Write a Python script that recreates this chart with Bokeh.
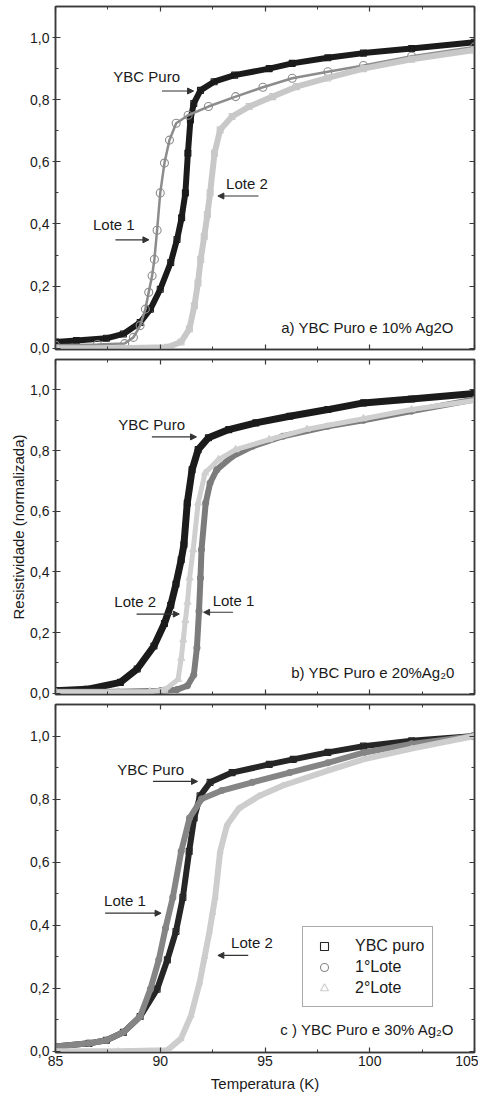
from bokeh.plotting import figure
from bokeh.layouts import column
from bokeh.models import (Range1d, LinearAxis, FixedTicker, CustomJSTickFormatter,
                          Label, Arrow, NormalHead, Legend, LegendItem)
from bokeh.embed import file_html
from bokeh.resources import INLINE

FONT = "Liberation Sans"

# ---------------- data (T in K, normalized resistivity) ----------------
# Panel a) YBC Puro e 10% Ag2O
a_ybc_T = [85, 86, 87.43, 88.24, 89.04, 89.53, 90.0, 90.5, 90.8, 91.02, 91.2, 91.32, 91.44, 91.6, 91.92, 92.57, 93.55, 95.2, 96.3, 98.0, 99.7, 102.0, 105]
a_ybc_v = [0.02, 0.025, 0.032, 0.046, 0.083, 0.126, 0.19, 0.276, 0.35, 0.42, 0.50, 0.628, 0.735, 0.788, 0.83, 0.858, 0.879, 0.90, 0.917, 0.935, 0.95, 0.965, 0.985]
a_l1_T = [85, 87, 88.3, 88.72, 89.04, 89.29, 89.45, 89.61, 89.72, 89.85, 90.0, 90.2, 90.44, 90.76, 91.33, 92.3, 93.6, 94.9, 96.3, 98.0, 99.7, 102.0, 105]
a_l1_v = [0.01, 0.012, 0.015, 0.035, 0.073, 0.126, 0.18, 0.233, 0.286, 0.38, 0.50, 0.596, 0.67, 0.724, 0.75, 0.778, 0.81, 0.84, 0.869, 0.89, 0.91, 0.94, 0.97]
a_l2_T = [85, 88, 90.34, 90.99, 91.39, 91.63, 91.8, 91.93, 92.1, 92.25, 92.38, 92.59, 92.86, 93.43, 94.24, 95.37, 96.5, 98.0, 99.7, 102.0, 105]
a_l2_v = [0.0, 0.0, 0.003, 0.02, 0.062, 0.137, 0.21, 0.286, 0.36, 0.43, 0.50, 0.628, 0.703, 0.746, 0.778, 0.81, 0.842, 0.87, 0.90, 0.93, 0.96]

# Panel b) YBC Puro e 20% Ag2O
b_ybc_T = [85, 86.5, 88.1, 88.9, 89.7, 90.2, 90.5, 90.75, 91.0, 91.13, 91.29, 91.52, 91.81, 92.3, 93.27, 94.56, 96.18, 98.0, 99.7, 102.0, 105]
b_ybc_v = [0.008, 0.013, 0.036, 0.08, 0.156, 0.23, 0.29, 0.36, 0.44, 0.49, 0.627, 0.737, 0.803, 0.842, 0.869, 0.891, 0.913, 0.935, 0.957, 0.97, 0.988]
b_l1_T = [85, 88, 90, 90.8, 91.3, 91.6, 91.75, 91.85, 91.92, 91.97, 92.17, 92.38, 92.7, 93.43, 94.4, 95.86, 98.0, 99.7, 102.0, 105]
b_l1_v = [0.005, 0.005, 0.008, 0.012, 0.025, 0.06, 0.15, 0.27, 0.38, 0.473, 0.627, 0.693, 0.737, 0.78, 0.814, 0.847, 0.88, 0.90, 0.93, 0.968]
b_l2_T = [85, 88, 89.5, 90.2, 90.85, 91.0, 91.1, 91.2, 91.3, 91.4, 91.57, 91.81, 92.14, 92.78, 93.6, 95.2, 97.0, 99.7, 102.0, 105]
b_l2_v = [0.005, 0.005, 0.006, 0.01, 0.046, 0.115, 0.176, 0.24, 0.30, 0.38, 0.473, 0.627, 0.726, 0.77, 0.803, 0.836, 0.87, 0.905, 0.935, 0.965]

# Panel c) YBC Puro e 30% Ag2O
c_ybc_T = [85, 86.6, 87.43, 88.24, 89.04, 89.85, 90.34, 90.75, 91.08, 91.38, 91.62, 91.9, 92.38, 93.43, 95.2, 96.35, 98.0, 99.7, 102.0, 105]
c_ybc_v = [0.015, 0.025, 0.035, 0.06, 0.11, 0.197, 0.29, 0.38, 0.488, 0.634, 0.74, 0.81, 0.853, 0.884, 0.91, 0.926, 0.948, 0.968, 0.985, 1.0]
c_l1_T = [85, 86.6, 87.43, 88.24, 89.04, 89.53, 89.93, 90.25, 90.6, 91.0, 91.4, 91.97, 92.94, 94.4, 96.18, 98.0, 99.7, 102.0, 105]
c_l1_v = [0.015, 0.025, 0.035, 0.06, 0.11, 0.197, 0.29, 0.39, 0.488, 0.634, 0.74, 0.80, 0.827, 0.853, 0.884, 0.915, 0.947, 0.975, 1.0]
c_l2_T = [85, 88, 90.34, 90.99, 91.47, 91.88, 92.12, 92.35, 92.5, 92.62, 92.86, 93.19, 93.75, 94.72, 95.86, 98.0, 99.7, 102.0, 105]
c_l2_v = [0.0, 0.0, 0.003, 0.04, 0.113, 0.218, 0.30, 0.38, 0.44, 0.488, 0.634, 0.718, 0.77, 0.81, 0.843, 0.89, 0.926, 0.96, 1.0]

legend_labels = ["YBC puro", "1°Lote", "2°Lote"]
panel_titles = ["a) YBC Puro e 10% Ag2O", "b) YBC Puro e 20%Ag\u20820", "c ) YBC Puro e 30% Ag\u2082O"]
x_ticks = [85, 90, 95, 100, 105]
x_minor = [87.5, 92.5, 97.5, 102.5]
y_ticks = [0.0, 0.2, 0.4, 0.6, 0.8, 1.0]
y_minor = [0.1, 0.3, 0.5, 0.7, 0.9]

# annotation positions (data coords): text (x, y), arrows (x_start, x_end, y)
a_texts = [("YBC Puro", 87.76, 0.875), ("Lote 2", 93.14, 0.529), ("Lote 1", 86.79, 0.397)]
a_arrows = [(90.08, 91.59, 0.828), (94.69, 92.75, 0.49), (87.86, 89.46, 0.349)]
b_texts = [("YBC Puro", 88.0, 0.885), ("Lote 2", 87.81, 0.304), ("Lote 1", 92.5, 0.307)]
b_arrows = [(89.6, 91.73, 0.845), (88.87, 90.91, 0.261), (93.47, 92.07, 0.267)]
c_texts = [("YBC Puro", 87.95, 0.894), ("Lote 1", 87.32, 0.478), ("Lote 2", 93.38, 0.344)]
c_arrows = [(89.65, 91.78, 0.856), (87.37, 90.04, 0.438), (94.2, 92.75, 0.304)]

DARK = "#1b1b1b"
FRAME = "#3a3a3a"
TXT = "#1a1a1a"

ytick_fmt = CustomJSTickFormatter(code="return tick.toFixed(1).replace('.', ',');")


def style_axis(ax, labels=True, left=False):
    ax.axis_line_color = FRAME
    ax.axis_line_width = 1.5
    ax.major_tick_line_color = FRAME
    ax.minor_tick_line_color = FRAME
    ax.major_tick_line_width = 1.2
    ax.minor_tick_line_width = 1.0
    ax.major_tick_in = 5
    ax.major_tick_out = 3 if left else 0
    ax.minor_tick_in = 3
    ax.minor_tick_out = 0
    ax.major_label_text_font = FONT
    ax.major_label_text_color = TXT
    ax.major_label_text_font_size = "14px"
    ax.major_label_standoff = 3
    if not labels:
        ax.formatter = CustomJSTickFormatter(code="return '';")
        ax.major_label_standoff = 0
        ax.major_label_text_font_size = "0px"


def make_panel(series, texts, arrows, title, height, btop, bbottom,
               xlabels=False, ylabel=None, legend=False):
    p = figure(width=478, height=height, output_backend="svg", toolbar_location=None,
               x_range=Range1d(85, 105), y_range=Range1d(-0.004, 1.1),
               min_border_left=55, min_border_right=4,
               min_border_top=btop, min_border_bottom=bbottom)
    p.grid.visible = False
    p.outline_line_color = FRAME
    p.outline_line_width = 1.5
    p.background_fill_color = "white"
    p.border_fill_color = "white"

    bottom = p.below[0]
    leftax = p.left[0]
    bottom.ticker = FixedTicker(ticks=x_ticks, minor_ticks=x_minor)
    leftax.ticker = FixedTicker(ticks=y_ticks, minor_ticks=y_minor)
    leftax.formatter = ytick_fmt
    style_axis(bottom, labels=xlabels)
    style_axis(leftax, labels=True, left=True)

    top = LinearAxis(ticker=FixedTicker(ticks=x_ticks, minor_ticks=x_minor))
    style_axis(top, labels=False)
    p.add_layout(top, "above")
    right = LinearAxis(ticker=FixedTicker(ticks=y_ticks, minor_ticks=y_minor))
    style_axis(right, labels=False)
    p.add_layout(right, "right")

    if xlabels:
        bottom.axis_label = "Temperatura (K)"
        bottom.axis_label_text_font = FONT
        bottom.axis_label_text_font_size = "15px"
        bottom.axis_label_text_font_style = "normal"
        bottom.axis_label_text_color = TXT
        bottom.axis_label_standoff = 6
    if ylabel:
        leftax.axis_label = ylabel
        leftax.axis_label_text_font = FONT
        leftax.axis_label_text_font_size = "15px"
        leftax.axis_label_text_font_style = "normal"
        leftax.axis_label_text_color = TXT
        leftax.axis_label_standoff = 0

    scat = []
    for T, v, color, marker, lw, ms in series:
        p.line(T, v, line_color=color, line_width=lw, line_alpha=1.0)
        r = p.scatter(T, v, marker=marker, size=ms, fill_color=None,
                      line_color=color, line_width=1.1)
        scat.append(r)

    for txt, x, y in texts:
        p.add_layout(Label(x=x, y=y, text=txt, text_font=FONT, text_font_size="15px",
                           text_color=TXT, text_baseline="middle", text_align="left"))
    for x0, x1, y in arrows:
        p.add_layout(Arrow(x_start=x0, y_start=y, x_end=x1, y_end=y,
                           line_color="#333333", line_width=1.1,
                           end=NormalHead(size=6, fill_color="#333333", line_color="#333333")))
    p.add_layout(Label(x=104.05, y=0.068, text=title, text_font=FONT, text_font_size="15px",
                       text_color=TXT, text_baseline="middle", text_align="right"))

    if legend:
        leg = Legend(items=[LegendItem(label=lab, renderers=[r]) for lab, r in zip(legend_labels, scat)],
                     location=(247, 45), label_text_font=FONT, label_text_font_size="16px",
                     label_text_color=TXT, glyph_width=26, glyph_height=20, label_height=21,
                     label_standoff=18, padding=8, spacing=0, margin=0,
                     border_line_color="#555555", border_line_width=1,
                     background_fill_alpha=1.0)
        p.add_layout(leg)
    return p


pa = make_panel([(a_ybc_T, a_ybc_v, DARK, "square", 6, 6),
                 (a_l1_T, a_l1_v, "#8c8c8c", "circle", 2.5, 8),
                 (a_l2_T, a_l2_v, "#c8c8c8", "square", 6, 6)],
                a_texts, a_arrows, panel_titles[0], 357, 6, 8)
pb = make_panel([(b_ybc_T, b_ybc_v, DARK, "square", 7, 6),
                 (b_l1_T, b_l1_v, "#7c7c7c", "circle", 6, 6),
                 (b_l2_T, b_l2_v, "#cfcfcf", "triangle", 5, 7)],
                b_texts, b_arrows, panel_titles[1], 345, 2, 8,
                ylabel="Resistividade (normalizada)")
pc = make_panel([(c_ybc_T, c_ybc_v, "#262626", "square", 6, 6),
                 (c_l1_T, c_l1_v, "#858585", "circle", 6, 6),
                 (c_l2_T, c_l2_v, "#cdcdcd", "triangle", 6, 6)],
                c_texts, c_arrows, panel_titles[2], 392, 2, 39,
                xlabels=True, legend=True)

layout = column(pa, pb, pc, spacing=0)
open("out.html", "w").write(file_html(layout, INLINE))
